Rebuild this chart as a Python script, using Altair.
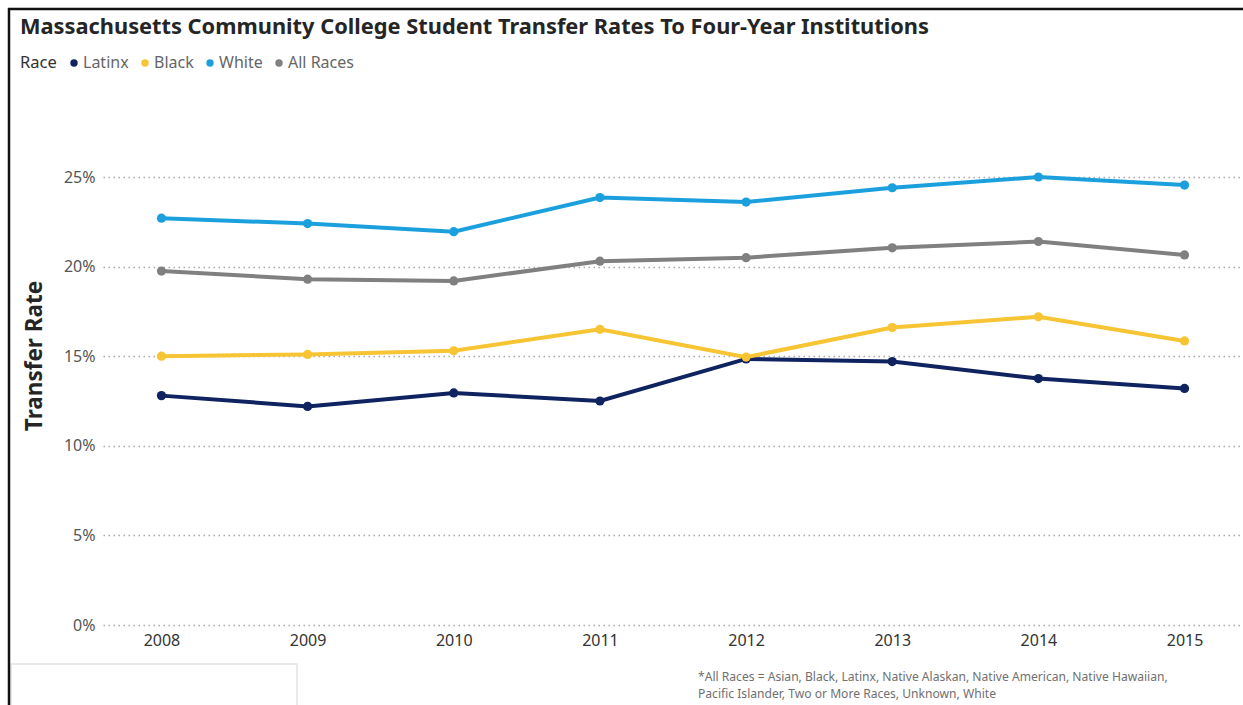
import altair as alt
import pandas as pd

years = ["2008", "2009", "2010", "2011", "2012", "2013", "2014", "2015"]
races = ["Latinx", "Black", "White", "All Races"]
latinx = [12.8, 12.2, 12.95, 12.5, 14.85, 14.7, 13.75, 13.2]
black = [15.0, 15.1, 15.3, 16.5, 14.95, 16.6, 17.2, 15.85]
white = [22.7, 22.4, 21.95, 23.85, 23.6, 24.4, 25.0, 24.55]
all_races = [19.75, 19.3, 19.2, 20.3, 20.5, 21.05, 21.4, 20.65]
colors = ["#0f2360", "#f7c434", "#1ca0dd", "#808080"]
y_ticks = [0, 5, 10, 15, 20, 25]

series = {"Latinx": latinx, "Black": black, "White": white, "All Races": all_races}
rows = []
for r in races:
    for yr, v in zip(years, series[r]):
        rows.append({"Year": yr, "Race": r, "Rate": v})
df = pd.DataFrame(rows)

FONT = "Noto Sans"
PL, PT = 103, 177  # plot origin in page pixels

color = alt.Color(
    "Race:N",
    scale=alt.Scale(domain=races, range=colors),
    legend=alt.Legend(
        orient="none",
        legendX=20 - PL,
        legendY=55 - PT,
        direction="horizontal",
        title="Race",
        titleOrient="left",
        titleFontSize=16.5,
        titleFontWeight="normal",
        titleColor="#333333",
        titleFont=FONT,
        titlePadding=9,
        labelFontSize=16,
        labelColor="#666666",
        labelFont=FONT,
        symbolType="circle",
        symbolSize=55,
        symbolStrokeWidth=0,
        labelOffset=1,
        columnPadding=8,
    ),
)

x = alt.X(
    "Year:O",
    sort=years,
    scale=alt.Scale(type="point", padding=0.4),
    axis=alt.Axis(
        title=None, labelAngle=0, domain=False, ticks=False, labelPadding=7,
        labelFontSize=16, labelColor="#333333", labelFont=FONT,
    ),
)
y = alt.Y(
    "Rate:Q",
    scale=alt.Scale(domain=[0, 25], nice=False),
    axis=alt.Axis(
        title=None, values=y_ticks, labelExpr="datum.value + '%'", domain=False,
        ticks=False, labelPadding=8, labelFontSize=16, labelColor="#555555",
        labelFont=FONT, grid=True, gridDash=[1.5, 3.5], gridColor="#a8a8a8", gridWidth=1.3,
    ),
)

lines = alt.Chart(df).mark_line(strokeWidth=4).encode(x=x, y=y, color=color)
points = alt.Chart(df).mark_circle(size=85, opacity=1).encode(
    x=x, y=y, color=alt.Color("Race:N", scale=alt.Scale(domain=races, range=colors), legend=None)
)

base = alt.Chart(pd.DataFrame({"a": [0]}))

title = base.mark_text(
    text="Massachusetts Community College Student Transfer Rates To Four-Year Institutions",
    font=FONT, fontSize=21.8, fontWeight="bold", color="#252525", align="left", baseline="middle",
).encode(x=alt.value(20 - PL), y=alt.value(27 - PT))

ytitle = base.mark_text(
    text="Transfer Rate", font=FONT, fontSize=22.5, fontWeight="bold", color="#252525",
    angle=270, align="center", baseline="middle",
).encode(x=alt.value(35 - PL), y=alt.value(356 - PT))

foot1 = base.mark_text(
    text="*All Races = Asian, Black, Latinx, Native Alaskan, Native American, Native Hawaiian,",
    font=FONT, fontSize=12.1, color="#707070", align="left", baseline="middle",
).encode(x=alt.value(698 - PL), y=alt.value(677 - PT))
foot2 = base.mark_text(
    text="Pacific Islander, Two or More Races, Unknown, White",
    font=FONT, fontSize=12.1, color="#707070", align="left", baseline="middle",
).encode(x=alt.value(698 - PL), y=alt.value(694 - PT))

left_border = base.mark_rule(color="#111111", strokeWidth=2.5).encode(
    x=alt.value(9 - PL), y=alt.value(8 - PT), y2=alt.value(705 - PT)
)
top_border = base.mark_rule(color="#111111", strokeWidth=2.5).encode(
    x=alt.value(8 - PL), x2=alt.value(1243 - PL), y=alt.value(9 - PT)
)
box = base.mark_rect(fill="white", stroke="#e4e4e4", strokeWidth=1.5).encode(
    x=alt.value(11 - PL), x2=alt.value(297 - PL), y=alt.value(664 - PT), y2=alt.value(720 - PT)
)

chart = alt.layer(
    box, lines, points, title, ytitle, foot1, foot2, left_border, top_border
).properties(
    width=1140, height=448,
    autosize=alt.AutoSizeParams(type="none"),
    padding={"left": PL, "top": PT, "right": 0, "bottom": 80},
    background="white",
).configure_view(stroke=None)

chart.save("out.html", embed_options={"renderer": "svg", "actions": False})
